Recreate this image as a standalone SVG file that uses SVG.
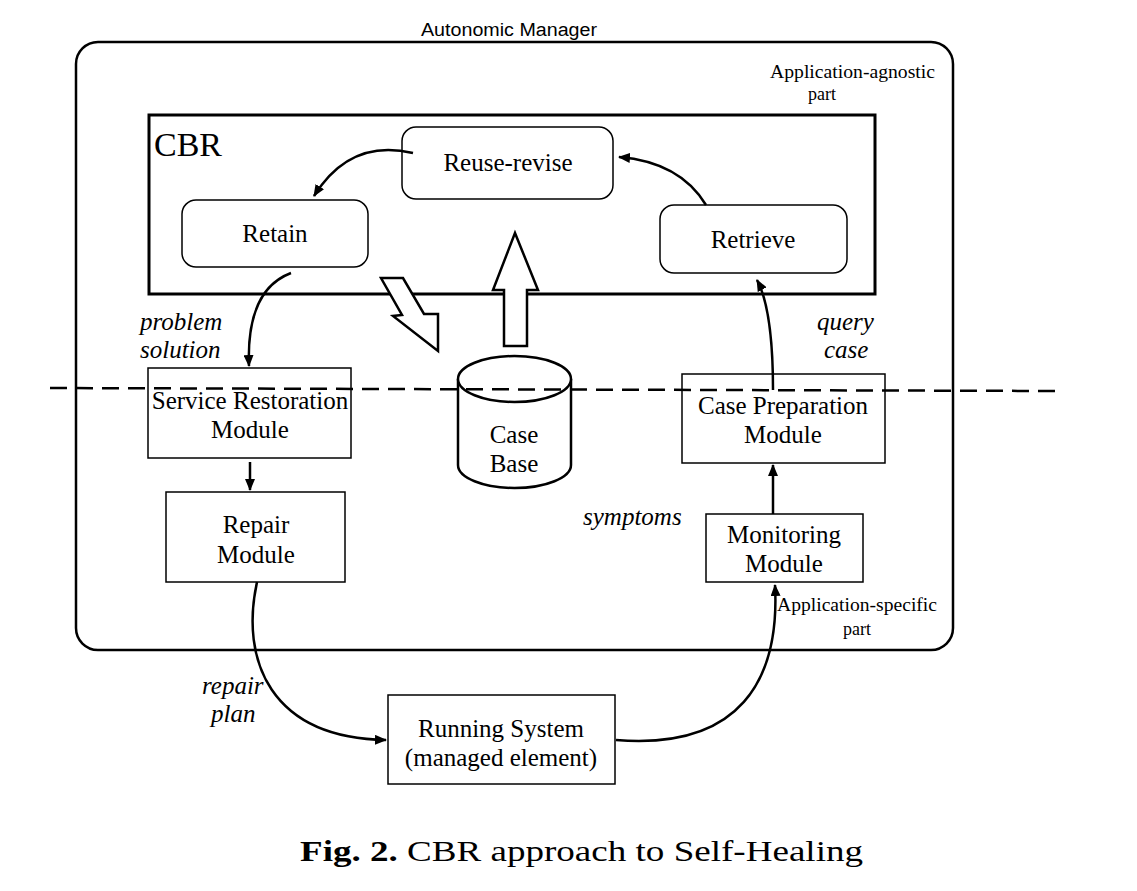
<svg xmlns="http://www.w3.org/2000/svg" width="1137" height="891" viewBox="0 0 1137 891">
<defs>
<marker id="ah" viewBox="0 0 12 10" refX="11" refY="5" markerWidth="12" markerHeight="10" markerUnits="userSpaceOnUse" orient="auto">
<path d="M0,0 L12,5 L0,10 Z" fill="#000"/>
</marker>
<style>
.t{font-family:"Liberation Serif","Times New Roman",serif;font-size:25px;fill:#000;text-anchor:middle}
.i{font-family:"Liberation Serif","Times New Roman",serif;font-size:25px;font-style:italic;fill:#000}
.s{font-family:"Liberation Serif","Times New Roman",serif;font-size:18px;fill:#000}
.box{fill:#fff;stroke:#000;stroke-width:1.5}
.rbox{fill:#fff;stroke:#000;stroke-width:1.5}
.c{fill:none;stroke:#000;stroke-width:2.5}
</style>
</defs>
<rect width="1137" height="891" fill="#fff"/>

<g id="autonomic-manager">
<rect x="76" y="42" width="877" height="608" rx="22" fill="none" stroke="#000" stroke-width="2.5"/>
<text x="421" y="36" textLength="176" lengthAdjust="spacingAndGlyphs" style="font-family:'Liberation Sans',Arial,sans-serif;font-size:18px">Autonomic Manager</text>
<text class="s" x="770" y="78" textLength="165" lengthAdjust="spacingAndGlyphs">Application-agnostic</text>
<text class="s" x="822" y="100" text-anchor="middle">part</text>
</g>

<g id="cbr">
<rect x="149" y="115" width="726" height="179" fill="none" stroke="#000" stroke-width="3"/>
<text x="154" y="156" style="font-family:'Liberation Serif','Times New Roman',serif;font-size:34px">CBR</text>
</g>

<g id="reuse-revise">
<rect class="rbox" x="402" y="127" width="211" height="72" rx="14"/>
<text class="t" x="508" y="171">Reuse-revise</text>
</g>
<g id="retain">
<rect class="rbox" x="182" y="200" width="186" height="67" rx="14"/>
<text class="t" x="275" y="242">Retain</text>
</g>
<g id="retrieve">
<rect class="rbox" x="660" y="205" width="187" height="68" rx="14"/>
<text class="t" x="753" y="248">Retrieve</text>
</g>

<g id="case-base">
<path d="M458,379 L458,465 A56.5,23 0 0 0 571,465 L571,379" fill="#fff" stroke="#000" stroke-width="2.5"/>
<ellipse cx="514.5" cy="379" rx="56.5" ry="23" fill="#fff" stroke="#000" stroke-width="2.5"/>
<text class="t" x="514" y="443">Case</text>
<text class="t" x="514" y="472">Base</text>
</g>

<g id="big-arrows">
<polygon points="381,278 403,278 424,314 438,314 438,351 393,316 402,315" fill="#fff" stroke="#000" stroke-width="2.5" stroke-linejoin="miter"/>
<polygon points="515,233 538,290 527,290 527,346 504,346 504,290 493,290" fill="#fff" stroke="#000" stroke-width="2.5"/>
</g>

<g id="divider">
<line x1="50" y1="388" x2="1055" y2="391" stroke="#000" stroke-width="2.5" stroke-dasharray="17,9"/>
</g>

<g id="service-restoration">
<rect class="box" x="148" y="368" width="203" height="90" fill="none" style="fill:none"/>
<text class="t" x="250" y="409">Service Restoration</text>
<text class="t" x="250" y="438">Module</text>
</g>
<g id="repair">
<rect class="box" x="166" y="492" width="179" height="90"/>
<text class="t" x="256" y="533">Repair</text>
<text class="t" x="256" y="563">Module</text>
</g>
<g id="case-preparation">
<rect class="box" x="682" y="374" width="203" height="89" style="fill:none"/>
<text class="t" x="783" y="414">Case Preparation</text>
<text class="t" x="783" y="443">Module</text>
</g>
<g id="monitoring">
<rect class="box" x="706" y="514" width="157" height="68"/>
<text class="t" x="784" y="543">Monitoring</text>
<text class="t" x="784" y="572">Module</text>
</g>
<g id="running-system">
<rect class="box" x="388" y="695" width="227" height="89"/>
<text class="t" x="501" y="737">Running System</text>
<text class="t" x="501" y="766">(managed element)</text>
</g>

<g id="connectors">
<path class="c" d="M413,153 Q350,138 314,196" marker-end="url(#ah)"/>
<path class="c" d="M706,205 Q680,162 619,157" marker-end="url(#ah)"/>
<path class="c" d="M291,273 Q246,290 249,366" marker-end="url(#ah)"/>
<path class="c" d="M250,462 L250,490" marker-end="url(#ah)"/>
<path class="c" d="M773,390 Q773,310 757,280" marker-end="url(#ah)"/>
<path class="c" d="M773,514 L773,465" marker-end="url(#ah)"/>
<path class="c" d="M257,582 C240,660 270,738 386,740" marker-end="url(#ah)"/>
<path class="c" d="M616,740 C740,750 780,680 775,585" marker-end="url(#ah)"/>
</g>

<g id="labels">
<text class="i" x="140" y="330">problem</text>
<text class="i" x="140" y="358">solution</text>
<text class="i" x="817" y="330">query</text>
<text class="i" x="824" y="358">case</text>
<text class="i" x="583" y="525">symptoms</text>
<text class="i" x="202" y="694">repair</text>
<text class="i" x="211" y="722">plan</text>
<text class="s" x="777" y="611" textLength="160" lengthAdjust="spacingAndGlyphs">Application-specific</text>
<text class="s" x="857" y="635" text-anchor="middle">part</text>
</g>

<g id="caption">
<text x="300" y="861" textLength="563" lengthAdjust="spacingAndGlyphs" style="font-family:'Liberation Serif','Times New Roman',serif;font-size:30px"><tspan font-weight="bold">Fig. 2.</tspan> CBR approach to Self-Healing</text>
</g>
</svg>
